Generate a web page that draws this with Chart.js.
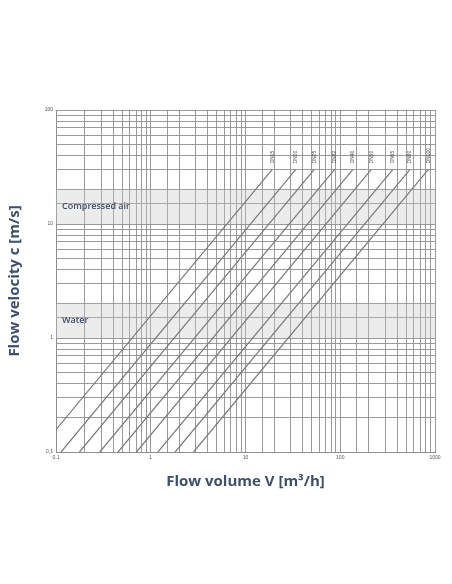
<!DOCTYPE html>
<html>
<head>
<meta charset="utf-8">
<script src="https://cdn.jsdelivr.net/npm/chart.js@4.4.0/dist/chart.umd.min.js"></script>
<style>
  html, body { margin: 0; padding: 0; background: #fff; }
  #wrap { width: 452px; height: 584px; }
</style>
</head>
<body>
<div id="wrap"><canvas id="chart" width="452" height="584"></canvas></div>
<script>
// pipe sizes and flow volume [m3/h] read at c = 0.1 m/s and c = 30 m/s
const pipes = ['DN15', 'DN20', 'DN25', 'DN32', 'DN40', 'DN50', 'DN65', 'DN80', 'DN100'];
const flowLow = [0.0636, 0.113, 0.177, 0.29, 0.452, 0.707, 1.19, 1.81, 2.83];
const flowHigh = [19.1, 33.9, 53, 86.9, 135.7, 212, 358, 543, 848];
const velocityLow = 0.1;
const velocityHigh = 30;

// shaded velocity ranges
const bandNames = ['Compressed air', 'Water'];
const bandFrom = [10, 1];
const bandTo = [20, 2];

const xTickLabels = [0.1, 1, 10, 100, 1000];
const yTickLabels = [0.1, 1, 10, 100];

const navy = '#3d4f6b';

const datasets = pipes.map((p, i) => ({
    label: p,
    data: [{ x: flowLow[i], y: velocityLow }, { x: flowHigh[i], y: velocityHigh }],
    borderColor: '#7a7a7a',
    borderWidth: 1.2,
    pointRadius: 0,
    fill: false
}));

function fmt(v) {
    return String(v).replace('.', ',');
}

const extras = {
    id: 'extras',
    beforeDatasetsDraw(chart) {
        const { ctx, chartArea: a, scales: { x, y } } = chart;
        ctx.save();
        bandNames.forEach((name, i) => {
            const top = y.getPixelForValue(bandTo[i]);
            const bot = y.getPixelForValue(bandFrom[i]);
            ctx.fillStyle = 'rgba(200,200,200,0.35)';
            ctx.fillRect(a.left, top, a.right - a.left, bot - top);
            ctx.fillStyle = navy;
            ctx.font = '600 9px "Open Sans"';
            ctx.textBaseline = 'middle';
            ctx.fillText(name, a.left + 6, (top + bot) / 2);
        });
        ctx.restore();
    },
    afterDatasetsDraw(chart) {
        const { ctx, chartArea: a, scales: { x, y } } = chart;
        ctx.save();
        ctx.fillStyle = '#444';
        ctx.font = '5px "Liberation Sans"';
        pipes.forEach((p, i) => {
            const px = x.getPixelForValue(flowHigh[i]);
            const py = y.getPixelForValue(velocityHigh) - 6;
            ctx.save();
            ctx.translate(px, py);
            ctx.rotate(-Math.PI / 2);
            ctx.textAlign = 'left';
            ctx.textBaseline = 'middle';
            ctx.fillText(p, 0, 0);
            ctx.restore();
        });
        // axis titles
        ctx.fillStyle = navy;
        ctx.font = 'bold 15px "Open Sans"';
        ctx.textAlign = 'center';
        ctx.textBaseline = 'middle';
        ctx.fillText('Flow volume V [m³/h]', (a.left + a.right) / 2, 482);
        ctx.save();
        ctx.translate(15, (a.top + a.bottom) / 2);
        ctx.rotate(-Math.PI / 2);
        ctx.fillText('Flow velocity c [m/s]', 0, 0);
        ctx.restore();
        ctx.restore();
    }
};

new Chart(document.getElementById('chart'), {
    type: 'line',
    data: { datasets },
    plugins: [extras],
    options: {
        responsive: false,
        animation: false,
        layout: { padding: { top: 110, right: 17, left: 0, bottom: 0 } },
        plugins: { legend: { display: false }, tooltip: { enabled: false } },
        scales: {
            x: {
                type: 'logarithmic',
                min: 0.1,
                max: 1000,
                afterFit(s) { s.height = 132; },
                grid: { color: '#8e8e8e', lineWidth: 0.9, drawTicks: false },
                border: { color: '#8e8e8e' },
                ticks: {
                    autoSkip: false,
                    maxRotation: 0,
                    padding: 3,
                    color: '#555',
                    font: { size: 5 },
                    callback: v => xTickLabels.some(t => Math.abs(t - v) < t * 1e-6) ? fmt(v) : ''
                }
            },
            y: {
                type: 'logarithmic',
                min: 0.1,
                max: 100,
                afterFit(s) { s.width = 56; },
                grid: { color: '#8e8e8e', lineWidth: 0.9, drawTicks: false },
                border: { color: '#8e8e8e' },
                ticks: {
                    autoSkip: false,
                    padding: 3,
                    color: '#555',
                    font: { size: 5 },
                    callback: v => yTickLabels.some(t => Math.abs(t - v) < t * 1e-6) ? fmt(v) : ''
                }
            }
        }
    }
});
</script>
</body>
</html>
